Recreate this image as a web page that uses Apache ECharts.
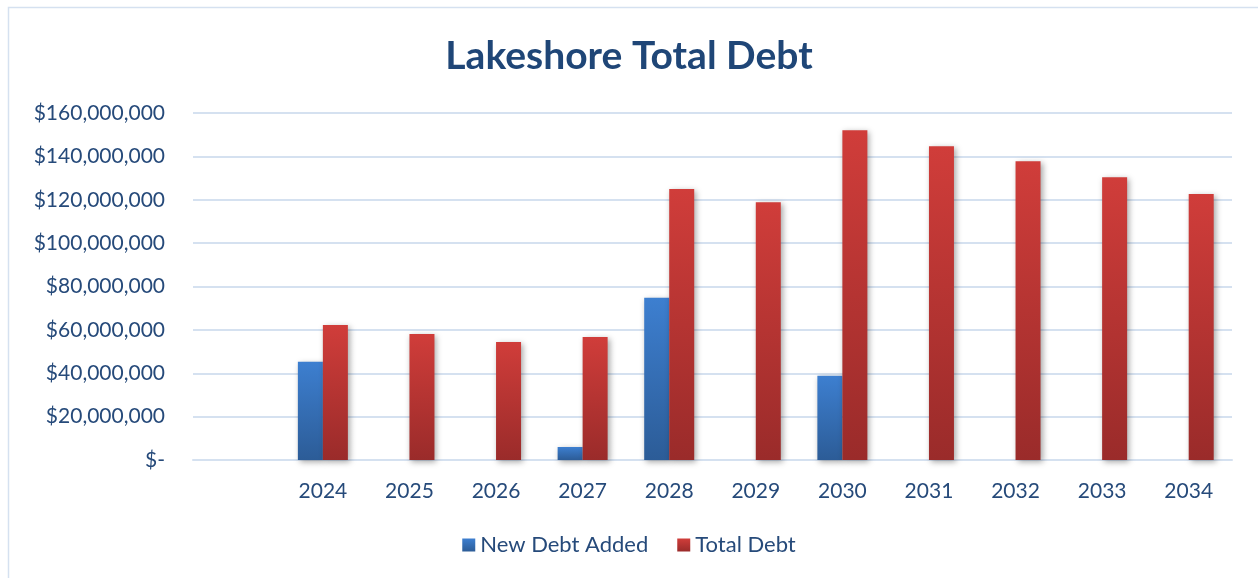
<!DOCTYPE html>
<html>
<head>
<meta charset="utf-8">
<title>Lakeshore Total Debt</title>
<script src="https://cdn.jsdelivr.net/npm/echarts@6/dist/echarts.min.js"></script>
<style>
  html, body { margin: 0; padding: 0; background: #fff; }
  #chart { width: 1258px; height: 578px; }
</style>
</head>
<body>
<div id="chart"></div>
<script>
// data (first category is an empty slot, as in the source)
var years = ['', '2024', '2025', '2026', '2027', '2028', '2029', '2030', '2031', '2032', '2033', '2034'];
var newDebt = [null, 45300000, null, null, 6000000, 74800000, null, 38800000, null, null, null, null];
var totalDebt = [null, 62200000, 58100000, 54400000, 56700000, 125000000, 118900000, 152000000, 144700000, 137800000, 130400000, 122600000];
var yTicks = { min: 0, max: 160000000, interval: 20000000 };

var textColor = '#264a7a';
var font = 'Lato, "Open Sans", sans-serif';

function money(v) {
  if (v === 0) return '$-';
  return '$' + v.toString().replace(/\B(?=(\d{3})+(?!\d))/g, ',');
}

function grad(top, bottom) {
  return new echarts.graphic.LinearGradient(0, 0, 0, 1, [
    { offset: 0, color: top },
    { offset: 1, color: bottom }
  ]);
}

var myChart = echarts.init(document.getElementById('chart'));
var option = {
  backgroundColor: '#fff',
  animation: false,
  graphic: [{
    type: 'rect',
    shape: { x: 8.5, y: 7.5, width: 1260, height: 580 },
    style: { fill: 'none', stroke: '#d5e1f0', lineWidth: 1.5 },
    z: -1
  }],
  title: {
    text: 'Lakeshore Total Debt',
    left: 'center',
    top: 32,
    textStyle: { color: '#1f4677', fontSize: 39, fontWeight: 'bold', fontFamily: font }
  },
  legend: {
    bottom: 17,
    left: 'center',
    itemWidth: 13,
    itemHeight: 13,
    itemGap: 29,
    icon: 'rect',
    textStyle: { color: textColor, fontSize: 22, fontFamily: font },
    data: ['New Debt Added', 'Total Debt']
  },
  grid: { left: 193, right: 26, top: 113, bottom: 118 },
  xAxis: {
    type: 'category',
    data: years,
    axisTick: { show: false },
    axisLine: { lineStyle: { color: '#d5e1f0', width: 2 } },
    axisLabel: { color: textColor, fontSize: 21, fontFamily: font, margin: 21 }
  },
  yAxis: {
    type: 'value',
    min: yTicks.min,
    max: yTicks.max,
    interval: yTicks.interval,
    axisLine: { show: false },
    axisTick: { show: false },
    splitLine: { lineStyle: { color: '#d5e1f0', width: 2 } },
    axisLabel: { color: textColor, fontSize: 21, fontFamily: font, margin: 28, formatter: money }
  },
  series: [{
    name: 'New Debt Added',
    type: 'bar',
    data: newDebt,
    barWidth: 25,
    barGap: '0%',
    itemStyle: {
      color: grad('#3d7fd0', '#2c5c97'),
      shadowColor: 'rgba(0,0,0,0.35)',
      shadowBlur: 6,
      shadowOffsetX: 2,
      shadowOffsetY: 2
    }
  }, {
    name: 'Total Debt',
    type: 'bar',
    data: totalDebt,
    barWidth: 25,
    itemStyle: {
      color: grad('#d03d3a', '#9a2b2a'),
      shadowColor: 'rgba(0,0,0,0.35)',
      shadowBlur: 6,
      shadowOffsetX: 2,
      shadowOffsetY: 2
    }
  }]
};
myChart.setOption(option);
window.addEventListener('resize', function () {
  myChart.resize();
});
</script>
</body>
</html>
